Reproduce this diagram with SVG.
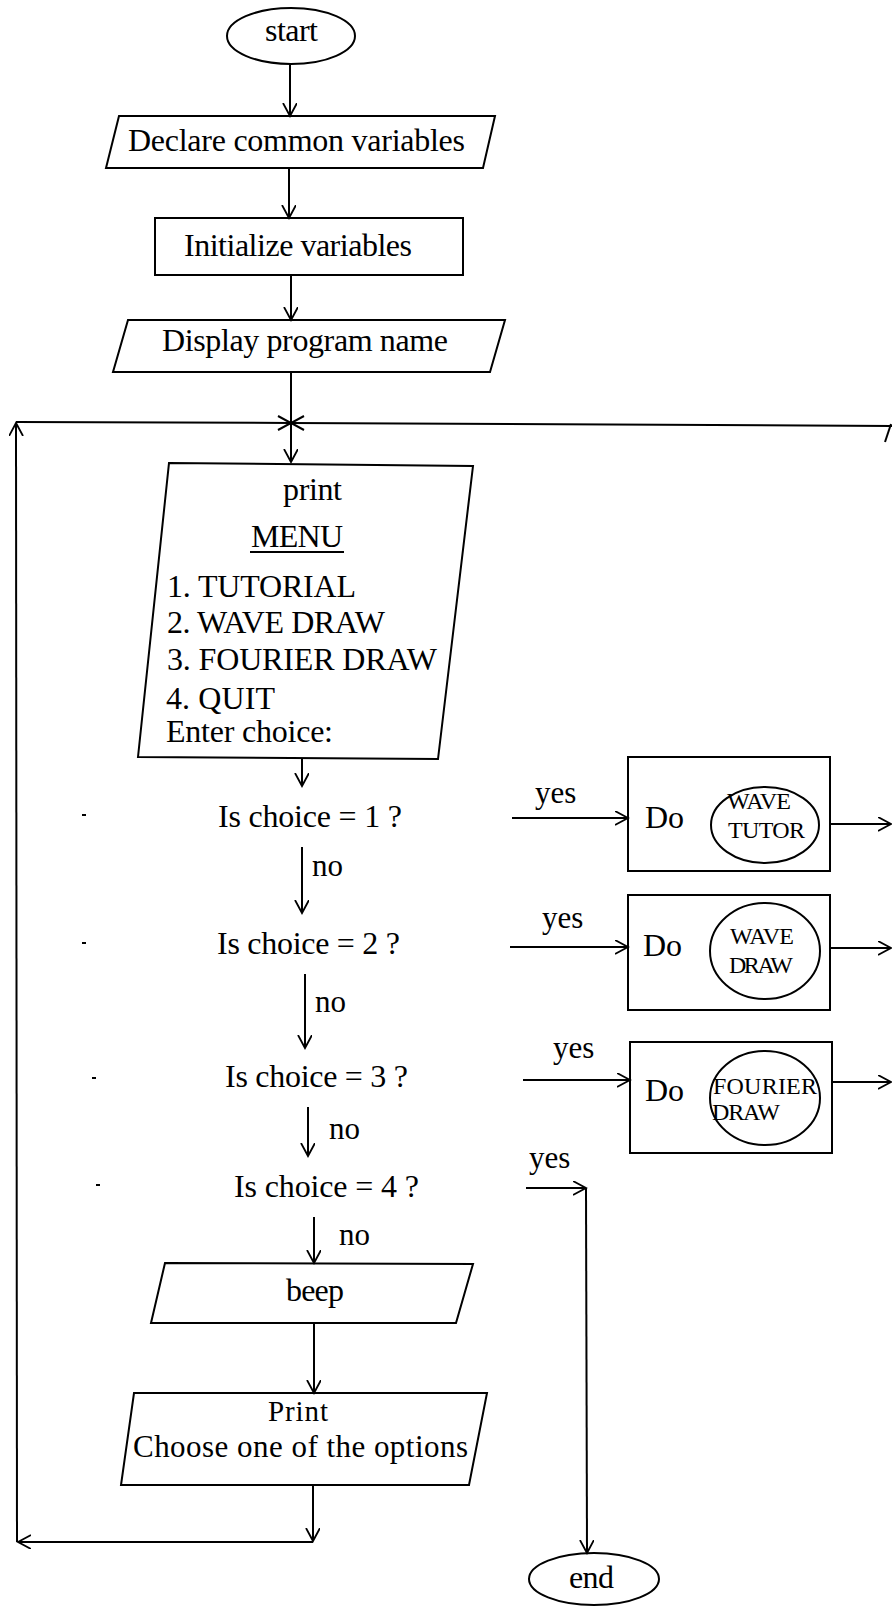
<svg xmlns="http://www.w3.org/2000/svg" width="892" height="1606" viewBox="0 0 892 1606">
<style>
.s{fill:none;stroke:#000;stroke-width:2}
.c{fill:none;stroke:#000;stroke-width:2}
.t{font-family:"Liberation Serif","Times New Roman",serif;font-size:31px;fill:#000}
.m{font-size:32px}
.sm{font-size:24px}
.p{font-size:29px}
</style>
<defs>
<marker id="ah" markerWidth="16" markerHeight="16" refX="13" refY="7" orient="auto" markerUnits="userSpaceOnUse">
<path d="M0,0 L13,7 L0,14" fill="none" stroke="#000" stroke-width="1.8"/>
</marker>
</defs>
<rect width="892" height="1606" fill="#fff"/>

<g id="start">
<ellipse class="s" cx="291" cy="36" rx="64" ry="28"/>
<text class="t m" x="265" y="41" textLength="53">start</text>
</g>
<g id="declare">
<polygon class="s" points="119,116 495,116 483,168 106,168"/>
<text class="t m" x="128" y="151" textLength="337">Declare common variables</text>
</g>
<g id="init">
<rect class="s" x="155" y="218" width="308" height="57"/>
<text class="t m" x="184" y="256" textLength="228">Initialize variables</text>
</g>
<g id="display">
<polygon class="s" points="128,320 505,320 490,372 113,372"/>
<text class="t m" x="162" y="351" textLength="286">Display program name</text>
</g>
<g id="menu">
<polygon class="s" points="169,463 473,466 438,759 138,757"/>
<text class="t m" x="283" y="500" textLength="59">print</text>
<text class="t m" x="251" y="547" textLength="92">MENU</text>
<line class="s" x1="250" y1="552" x2="344" y2="552" stroke-width="1.5"/>
<text class="t m" x="167" y="597" textLength="189">1. TUTORIAL</text>
<text class="t m" x="167" y="633" textLength="218">2. WAVE DRAW</text>
<text class="t m" x="167" y="670" textLength="270">3. FOURIER DRAW</text>
<text class="t m" x="166" y="709" textLength="109">4. QUIT</text>
<text class="t m" x="166" y="742" textLength="167">Enter choice:</text>
</g>
<g id="q1"><text class="t m" x="218" y="827" textLength="184">Is choice = 1 ?</text></g>
<g id="q2"><text class="t m" x="217" y="954" textLength="183">Is choice = 2 ?</text></g>
<g id="q3"><text class="t m" x="225" y="1087" textLength="183">Is choice = 3 ?</text></g>
<g id="q4"><text class="t m" x="234" y="1197" textLength="185">Is choice = 4 ?</text></g>
<g id="do1">
<rect class="s" x="628" y="757" width="202" height="114"/>
<text class="t m" x="645" y="828">Do</text>
<ellipse class="s" cx="765" cy="825" rx="54" ry="38"/>
<text class="t sm" x="727" y="809" textLength="64">WAVE</text>
<text class="t sm" x="728" y="838" textLength="77">TUTOR</text>
</g>
<g id="do2">
<rect class="s" x="628" y="895" width="202" height="115"/>
<text class="t m" x="643" y="956">Do</text>
<ellipse class="s" cx="765" cy="951" rx="55" ry="48"/>
<text class="t sm" x="730" y="944" textLength="64">WAVE</text>
<text class="t sm" x="729" y="973" textLength="64">DRAW</text>
</g>
<g id="do3">
<rect class="s" x="630" y="1042" width="202" height="111"/>
<text class="t m" x="645" y="1101">Do</text>
<text class="t sm" x="713" y="1094" textLength="104">FOURIER</text>
<text class="t sm" x="712" y="1120" textLength="68">DRAW</text>
<ellipse class="s" cx="765" cy="1098" rx="55" ry="47"/>
</g>
<g id="beep">
<polygon class="s" points="165,1263 473,1264 456,1323 151,1323"/>
<text class="t m" x="286" y="1301" textLength="58">beep</text>
</g>
<g id="printopt">
<polygon class="s" points="134,1393 487,1393 469,1485 121,1485"/>
<text class="t p" x="268" y="1421" textLength="60">Print</text>
<text class="t" x="133" y="1457" textLength="335">Choose one of the options</text>
</g>
<g id="end">
<ellipse class="s" cx="594" cy="1579" rx="65" ry="26"/>
<text class="t m" x="569" y="1588" textLength="45">end</text>
</g>

<g id="connectors">
<line class="c" x1="290" y1="64" x2="290" y2="116" marker-end="url(#ah)"/>
<line class="c" x1="289" y1="168" x2="289" y2="218" marker-end="url(#ah)"/>
<line class="c" x1="291" y1="275" x2="291" y2="320" marker-end="url(#ah)"/>
<line class="c" x1="291" y1="372" x2="291" y2="423"/>
<line class="c" x1="291" y1="423" x2="291" y2="462" marker-end="url(#ah)"/>
<polyline class="c" points="16,422 291,423 892,426"/>
<path class="c" d="M278,416 L291,423 L278,430 M304,416 L291,423 L304,430"/>
<path class="c" d="M885,442 L891,424"/>
<line class="c" x1="17" y1="1542" x2="16" y2="423" marker-end="url(#ah)"/>
<line class="c" x1="313" y1="1485" x2="313" y2="1541" marker-end="url(#ah)"/>
<line class="c" x1="313" y1="1542" x2="18" y2="1542" marker-end="url(#ah)"/>
<line class="c" x1="302" y1="759" x2="302" y2="786" marker-end="url(#ah)"/>
<line class="c" x1="302" y1="847" x2="302" y2="913" marker-end="url(#ah)"/>
<line class="c" x1="305" y1="974" x2="305" y2="1048" marker-end="url(#ah)"/>
<line class="c" x1="308" y1="1107" x2="308" y2="1156" marker-end="url(#ah)"/>
<line class="c" x1="314" y1="1217" x2="314" y2="1263" marker-end="url(#ah)"/>
<line class="c" x1="314" y1="1323" x2="314" y2="1393" marker-end="url(#ah)"/>
<line class="c" x1="512" y1="818" x2="628" y2="818" marker-end="url(#ah)"/>
<line class="c" x1="510" y1="947" x2="628" y2="947" marker-end="url(#ah)"/>
<line class="c" x1="523" y1="1080" x2="630" y2="1080" marker-end="url(#ah)"/>
<line class="c" x1="830" y1="824" x2="891" y2="824" marker-end="url(#ah)"/>
<line class="c" x1="830" y1="948" x2="891" y2="948" marker-end="url(#ah)"/>
<line class="c" x1="832" y1="1082" x2="891" y2="1082" marker-end="url(#ah)"/>
<line class="c" x1="526" y1="1188" x2="586" y2="1188" marker-end="url(#ah)"/>
<line class="c" x1="586" y1="1188" x2="587" y2="1553" marker-end="url(#ah)"/>
<text class="t" x="312" y="876">no</text>
<text class="t" x="315" y="1012">no</text>
<text class="t" x="329" y="1139">no</text>
<text class="t" x="339" y="1245">no</text>
<text class="t" x="535" y="803">yes</text>
<text class="t" x="542" y="928">yes</text>
<text class="t" x="553" y="1058">yes</text>
<text class="t" x="529" y="1168">yes</text>
</g>
<g id="marks">
<line class="c" x1="82" y1="815" x2="86" y2="815" stroke-width="1.5"/>
<line class="c" x1="82" y1="943" x2="86" y2="943" stroke-width="1.5"/>
<line class="c" x1="92" y1="1078" x2="96" y2="1078" stroke-width="1.5"/>
<line class="c" x1="96" y1="1185" x2="100" y2="1185" stroke-width="1.5"/>
</g>
</svg>
